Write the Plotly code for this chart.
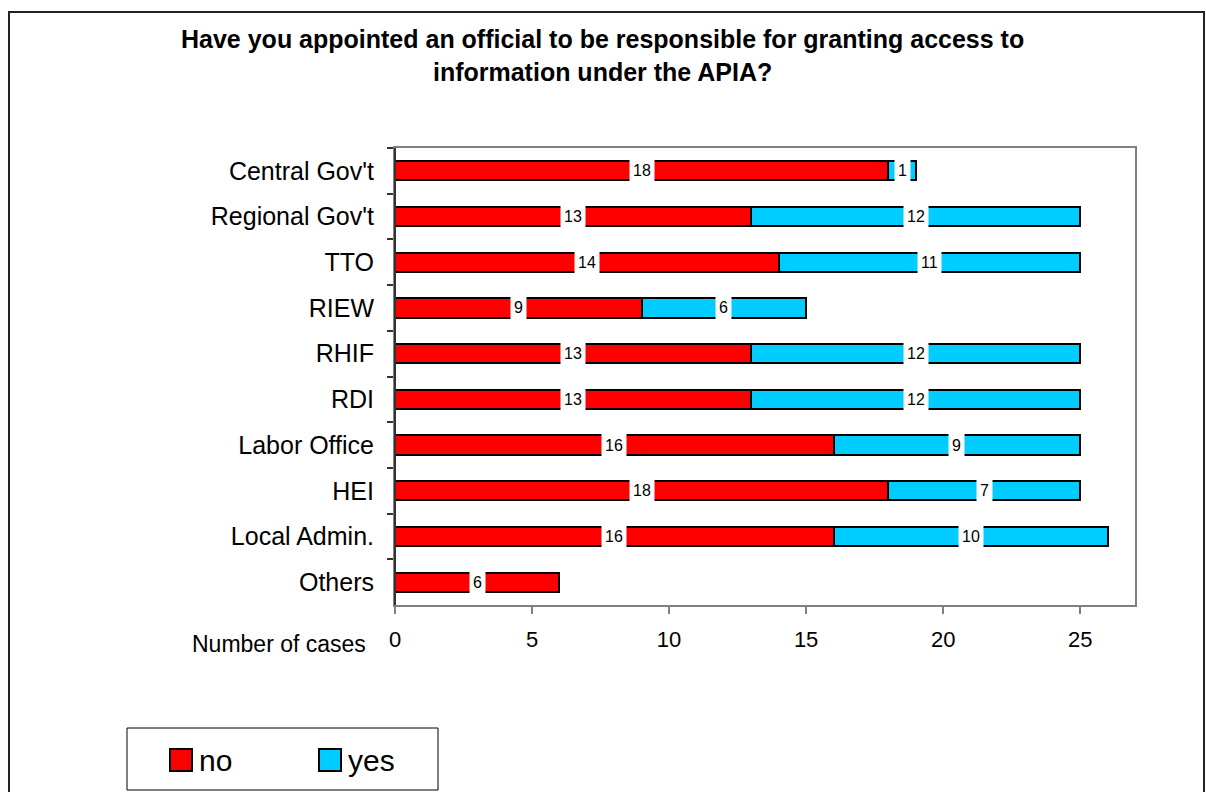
import plotly.graph_objects as go

# Survey responses per institution type
categories = ["Central Gov't", "Regional Gov't", "TTO", "RIEW", "RHIF", "RDI",
              "Labor Office", "HEI", "Local Admin.", "Others"]
no_counts = [18, 13, 14, 9, 13, 13, 16, 18, 16, 6]
yes_counts = [1, 12, 11, 6, 12, 12, 9, 7, 10, 0]

RED = "#FF0000"
CYAN = "#00CCFF"
FONT = "Liberation Sans, Arial, sans-serif"

W, H = 1206, 792
L, R, T, B = 395, 71, 148, 187
PW, PH = W - L - R, H - T - B


def px_x(p):
    return (p - L) / PW


def px_y(p):
    return (H - B - p) / PH


fig = go.Figure()
fig.add_trace(go.Bar(
    y=categories, x=no_counts, name="no", orientation="h",
    marker=dict(color=RED, line=dict(color="black", width=2)), width=0.42,
    hoverinfo="x+y",
))
fig.add_trace(go.Bar(
    y=categories, x=yes_counts, name="yes", orientation="h",
    marker=dict(color=CYAN, line=dict(color="black", width=2)), width=0.42,
    hoverinfo="x+y",
))

annotations = []
# segment value labels on a white box, centred in each segment
for cat, n, y in zip(categories, no_counts, yes_counts):
    for base, val in ((0, n), (n, y)):
        if val > 0:
            annotations.append(dict(
                x=base + val / 2, y=cat, xref="x", yref="y", text=str(val),
                showarrow=False, bgcolor="white", borderpad=3,
                font=dict(family=FONT, size=16, color="black"),
            ))

annotations.append(dict(
    x=px_x(602), y=px_y(56), xref="paper", yref="paper",
    text="Have you appointed an official to be responsible for granting access to<br>"
         "information under the APIA?",
    showarrow=False, xanchor="center", yanchor="middle", align="center",
    font=dict(family=FONT, size=25, color="black", weight="bold"),
))
annotations.append(dict(
    x=px_x(368), y=px_y(644), xref="paper", yref="paper", text="Number of cases",
    showarrow=False, xanchor="right", yanchor="middle",
    font=dict(family=FONT, size=23, color="black"),
))

# legend drawn as a boxed key
legend_items = [("no", RED, 170), ("yes", CYAN, 319)]
shapes = [
    dict(type="rect", xref="paper", yref="paper",
         x0=px_x(9), x1=px_x(1204), y0=px_y(12), y1=px_y(820),
         line=dict(color="#222222", width=2), fillcolor="rgba(0,0,0,0)", layer="below"),
    dict(type="line", xref="paper", yref="paper", x0=0, x1=0, y0=0, y1=1,
         line=dict(color="#333333", width=2)),
    dict(type="rect", xref="paper", yref="paper",
         x0=px_x(127), x1=px_x(438), y0=px_y(728), y1=px_y(790),
         line=dict(color="black", width=1), fillcolor="white"),
]
for label, color, x0 in legend_items:
    shapes.append(dict(type="rect", xref="paper", yref="paper",
                       x0=px_x(x0), x1=px_x(x0 + 22), y0=px_y(749), y1=px_y(771),
                       line=dict(color="black", width=2), fillcolor=color))
    annotations.append(dict(
        x=px_x(x0 + 27), y=px_y(760), xref="paper", yref="paper", text=label,
        showarrow=False, xanchor="left", yanchor="middle",
        font=dict(family=FONT, size=30, color="black"),
    ))

fig.update_layout(
    width=W, height=H, barmode="stack", showlegend=False,
    margin=dict(l=L, r=R, t=T, b=B, pad=0),
    paper_bgcolor="white", plot_bgcolor="white",
    font=dict(family=FONT, color="black"),
    annotations=annotations, shapes=shapes,
    xaxis=dict(
        range=[0, 27], dtick=5, tick0=0, showgrid=False, zeroline=False,
        showline=True, linecolor="#808080", linewidth=2, mirror=True,
        ticks="outside", ticklen=7, tickcolor="#808080", tickwidth=1.5,
        ticklabelstandoff=7, tickfont=dict(family=FONT, size=22, color="black"),
    ),
    yaxis=dict(
        type="category", categoryorder="array", categoryarray=categories,
        autorange="reversed", showgrid=False, zeroline=False,
        showline=True, linecolor="#808080", linewidth=2, mirror=True,
        ticks="outside", tickson="boundaries", ticklen=6, tickcolor="#333333",
        tickwidth=1.5, ticklabelstandoff=14,
        tickfont=dict(family=FONT, size=25, color="black"),
    ),
)

fig.write_html("out.html")
